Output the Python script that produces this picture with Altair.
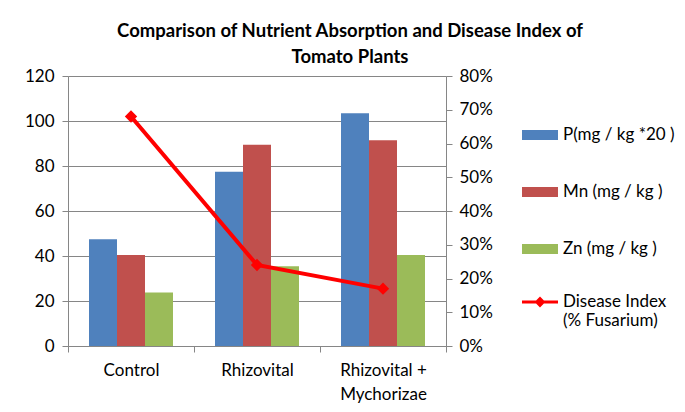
import altair as alt
import pandas as pd

cat_labels = ["Control", "Rhizovital", "Rhizovital +|Mychorizae"]
series = ["P(mg / kg *20 )", "Mn (mg / kg )", "Zn (mg / kg )"]
p_values = [47.5, 77.5, 103.5]
mn_values = [40.5, 89.5, 91.5]
zn_values = [23.8, 35.5, 40.5]
disease_index = [0.68, 0.24, 0.17]
line_name = "Disease Index|(% Fusarium)"
bar_colors = ["#4F81BD", "#C0504D", "#9BBB59"]
line_color = "#FF0000"

rows = []
for s, vals in zip(series, [p_values, mn_values, zn_values]):
    for c, v in zip(cat_labels, vals):
        rows.append({"category": c, "series": s, "value": v})
bars_df = pd.DataFrame(rows)
line_df = pd.DataFrame({"category": cat_labels, "disease": disease_index, "name": line_name})

FONT = "Lato"
FS = 17
GRAY = "#868686"

x_enc = alt.X(
    "category:N",
    sort=cat_labels,
    scale=alt.Scale(paddingInner=0, paddingOuter=0),
    axis=alt.Axis(
        title=None, labelAngle=0, tickBand="extent", domainColor=GRAY, tickColor=GRAY,
        tickSize=6, labelPadding=10, labelFontSize=FS, labelFont=FONT, labelColor="#000000",
        labelExpr="split(datum.label, '|')", labelLineHeight=24,
    ),
)

bars = alt.Chart(bars_df).mark_bar().encode(
    x=x_enc,
    xOffset=alt.XOffset("series:N", sort=series,
                        scale=alt.Scale(paddingOuter=0.75, paddingInner=0)),
    y=alt.Y("value:Q", scale=alt.Scale(domain=[0, 120]),
            axis=alt.Axis(title=None, values=[0, 20, 40, 60, 80, 100, 120], grid=True,
                          gridColor=GRAY, domainColor=GRAY, tickColor=GRAY, tickSize=6,
                          labelPadding=8, labelFontSize=FS, labelFont=FONT, labelColor="#000000")),
    color=alt.Color("series:N", sort=series,
                    scale=alt.Scale(domain=series, range=bar_colors),
                    legend=alt.Legend(title=None, orient="none", legendX=454, legendY=41,
                                      symbolType="M-1,-0.28H1V0.28H-1Z", symbolSize=1296,
                                      symbolStrokeWidth=0, rowPadding=31, labelFontSize=FS,
                                      labelFont=FONT, labelOffset=5, labelColor="#000000",
                                      labelLimit=220)),
)

line = alt.Chart(line_df).mark_line(
    strokeWidth=4,
    point=alt.OverlayMarkDef(shape="diamond", filled=True, size=90, color=line_color, opacity=1),
).encode(
    x=alt.X("category:N", sort=cat_labels),
    y=alt.Y("disease:Q", scale=alt.Scale(domain=[0, 0.8]),
            axis=alt.Axis(title=None, orient="right", format="%",
                          values=[0, 0.1, 0.2, 0.3, 0.4, 0.5, 0.6, 0.7, 0.8], grid=False,
                          domainColor=GRAY, tickColor=GRAY, tickSize=6, labelPadding=7,
                          labelFontSize=FS, labelFont=FONT, labelColor="#000000")),
    stroke=alt.Stroke("name:N", scale=alt.Scale(domain=[line_name], range=[line_color]),
                      legend=alt.Legend(title=None, orient="none", legendX=454, legendY=208,
                                        symbolType="M-1,-0.09H1V0.09H-1Z M0,-0.3L0.3,0L0,0.3L-0.3,0Z",
                                        symbolSize=1296, symbolFillColor=line_color,
                                        symbolStrokeWidth=0, labelFontSize=FS, labelFont=FONT,
                                        labelOffset=5, labelColor="#000000",
                                        labelExpr="split(datum.label, '|')",
                                        labelLimit=220)),
)

chart = alt.layer(bars, line).resolve_scale(y="independent", color="independent").properties(
    width=378,
    height=270,
    title=alt.TitleParams(
        text=["Comparison of Nutrient Absorption and Disease Index of", "Tomato Plants"],
        fontSize=18.5, font=FONT, fontWeight="bold", anchor="middle", dx=93, offset=1,
        lineHeight=26, color="#000000",
    ),
    autosize=alt.AutoSizeParams(type="none"),
    padding={"left": 60, "top": 68, "right": 231, "bottom": 58},
).configure_view(stroke=None).configure(background="#FFFFFF")

chart.save("out.html", embed_options={"renderer": "svg", "actions": False})
